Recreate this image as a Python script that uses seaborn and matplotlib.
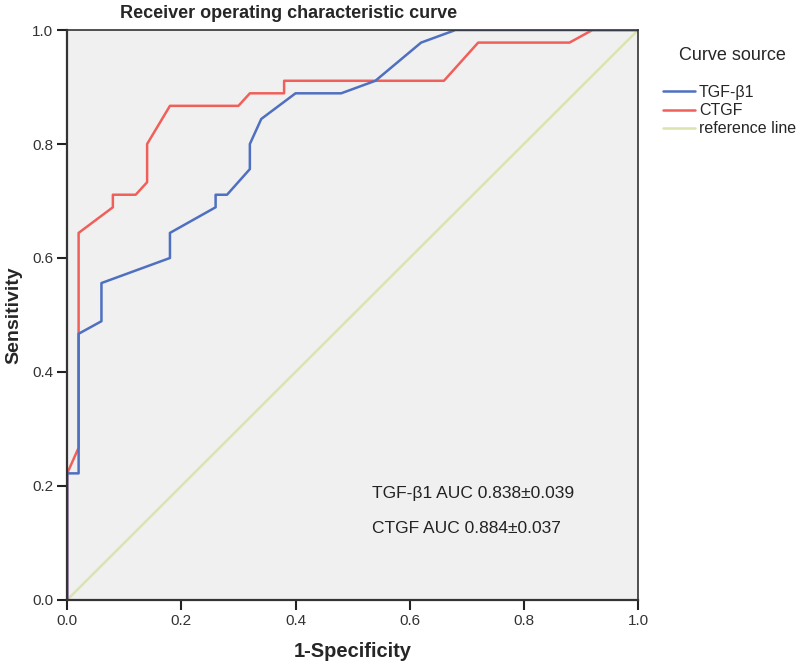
import matplotlib
matplotlib.use("Agg")
import matplotlib.pyplot as plt
import pandas as pd
import seaborn as sns

# ROC points (1-specificity, sensitivity)
tgf_fpr = [0.0, 0.0, 0.02, 0.02, 0.06, 0.06, 0.18, 0.18, 0.26, 0.26, 0.28, 0.32, 0.32,
           0.34, 0.40, 0.48, 0.54, 0.62, 0.68, 1.0]
tgf_tpr = [0.0, 0.222, 0.222, 0.467, 0.489, 0.556, 0.600, 0.644, 0.689, 0.711, 0.711, 0.756, 0.800,
           0.844, 0.889, 0.889, 0.911, 0.978, 1.0, 1.0]

ctgf_fpr = [0.0, 0.0, 0.02, 0.02, 0.08, 0.08, 0.12, 0.14, 0.14, 0.18, 0.30, 0.32, 0.38,
            0.38, 0.66, 0.72, 0.88, 0.92, 1.0]
ctgf_tpr = [0.0, 0.222, 0.267, 0.644, 0.689, 0.711, 0.711, 0.733, 0.800, 0.867, 0.867, 0.889, 0.889,
            0.911, 0.911, 0.978, 0.978, 1.0, 1.0]

ref_fpr = [0.0, 1.0]
ref_tpr = [0.0, 1.0]

series_names = ["TGF-\u03b21", "CTGF", "reference line"]
auc_labels = ["TGF-\u03b21 AUC 0.838\u00b10.039", "CTGF AUC 0.884\u00b10.037"]
ticks = [0.0, 0.2, 0.4, 0.6, 0.8, 1.0]

colors = {"TGF-\u03b21": "#4f6fc0", "CTGF": "#f0605a", "reference line": "#dde3b0"}

roc = pd.concat([
    pd.DataFrame({"fpr": tgf_fpr, "tpr": tgf_tpr, "source": series_names[0]}),
    pd.DataFrame({"fpr": ctgf_fpr, "tpr": ctgf_tpr, "source": series_names[1]}),
    pd.DataFrame({"fpr": ref_fpr, "tpr": ref_tpr, "source": series_names[2]}),
])

sns.set_style("white")
plt.rcParams["font.family"] = ["Liberation Sans", "DejaVu Sans"]

fig = plt.figure(figsize=(8, 6.68), dpi=100)
ax = fig.add_axes([0.084, 0.102, 0.7135, 0.853])
ax.set_facecolor("#f0f0f0")

# reference line first so the curves sit on top
sns.lineplot(data=roc, x="fpr", y="tpr", hue="source", hue_order=series_names[::-1],
             palette=colors, sort=False, estimator=None,
             linewidth=1.8, ax=ax, legend=False)

ax.set_xlim(0, 1)
ax.set_ylim(0, 1)
ax.set_xticks(ticks)
ax.set_yticks(ticks)
ax.set_xticklabels([f"{t:.1f}" for t in ticks])
ax.set_yticklabels([f"{t:.1f}" for t in ticks])
ax.tick_params(bottom=True, left=True, direction="out", length=7, width=1.5,
               colors="#222222", labelsize=11, labelcolor="#333333", pad=3)
for side in ["left", "bottom", "top", "right"]:
    ax.spines[side].set_visible(True)
    ax.spines[side].set_color("#333333")
ax.spines["left"].set_linewidth(1.6)
ax.spines["bottom"].set_linewidth(1.6)
ax.spines["top"].set_linewidth(1.2)
ax.spines["right"].set_linewidth(1.2)

fig.text(289 / 800, 1 - 13 / 668, "Receiver operating characteristic curve",
         fontsize=13, fontweight="bold", ha="center", va="center")
ax.set_xlabel("1-Specificity", fontsize=14.5, fontweight="bold", labelpad=10)
ax.set_ylabel("Sensitivity", fontsize=14, fontweight="bold", labelpad=7)

ax.text(0.534, 0.187, auc_labels[0], fontsize=12.5, color="#222222", va="center")
ax.text(0.534, 0.126, auc_labels[1], fontsize=12.5, color="#222222", va="center")

# legend title drawn separately, centred over the entries like SPSS does
fig.text(732 / 800, 1 - 55 / 668, "Curve source", fontsize=13, ha="center", va="center")
handles = [plt.Line2D([], [], color=colors[n], linewidth=1.8) for n in series_names]
fig.legend(handles, series_names, loc="upper left",
           bbox_to_anchor=(663 / 800, 1 - 85 / 668), frameon=False, fontsize=11.5,
           handlelength=2.0, handletextpad=0.25,
           labelspacing=0.2, borderaxespad=0, borderpad=0)

fig.savefig("out.png", dpi=100, facecolor="white")
